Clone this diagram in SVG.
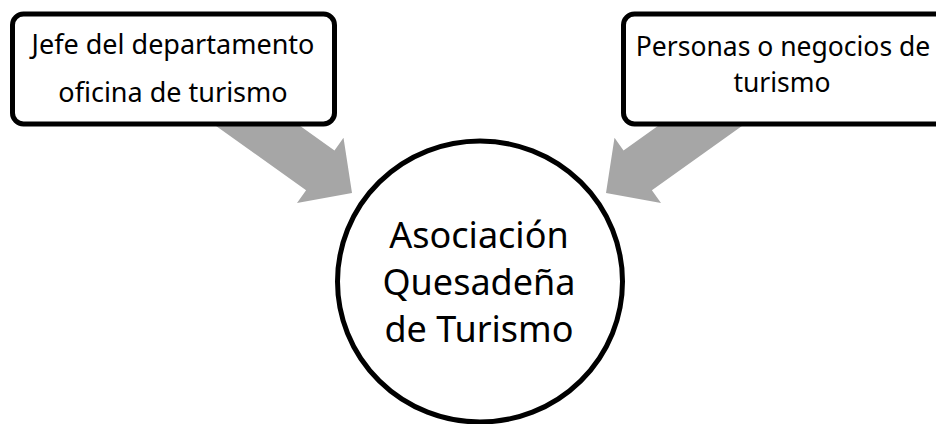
<svg xmlns="http://www.w3.org/2000/svg" width="936" height="424" viewBox="0 0 936 424">
  <style>
    .box { fill: #ffffff; stroke: #000000; stroke-width: 5; }
    .arrow { fill: #a6a6a6; stroke: none; }
    .lbl { font-family: "Noto Sans", "Open Sans", sans-serif; fill: #000000; text-anchor: middle; }
    .small { font-size: 27px; }
    .small2 { font-size: 26.5px; }
    .big { font-size: 36px; }
  </style>
  <rect x="0" y="0" width="936" height="424" fill="#ffffff"/>
  <g id="connectors">
    <polygon class="arrow" points="228.7,74.9 334.5,150.4 343.5,137.7 352,193 297,202.9 306.1,190.2 200.3,114.7"/>
    <polygon class="arrow" points="729.3,74.9 623.5,150.4 614.5,137.7 606,193 661,202.9 651.9,190.2 757.7,114.7"/>
  </g>
  <g id="node-jefe">
    <rect class="box" x="12.5" y="14" width="322" height="110" rx="11"/>
    <text class="lbl small" x="173" y="54">Jefe del departamento</text>
    <text class="lbl small" x="173" y="102">oficina de turismo</text>
  </g>
  <g id="node-personas">
    <rect class="box" x="623.5" y="14" width="340" height="110" rx="11"/>
    <text class="lbl small2" x="783" y="56">Personas o negocios de</text>
    <text class="lbl small2" x="782" y="92">turismo</text>
  </g>
  <g id="node-asociacion">
    <ellipse class="box" cx="480" cy="281.5" rx="142.5" ry="140.5"/>
    <text class="lbl big" x="479" y="248">Asociación</text>
    <text class="lbl big" x="479" y="295">Quesadeña</text>
    <text class="lbl big" x="479" y="342">de Turismo</text>
  </g>
</svg>
